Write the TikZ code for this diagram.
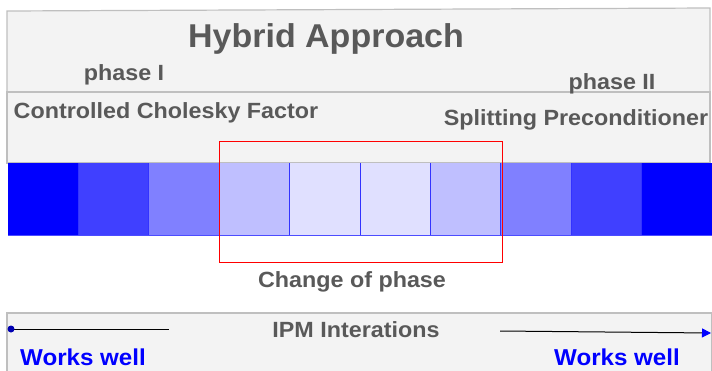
\documentclass[tikz,border=0pt]{standalone}
\usepackage{fontspec}
\setmainfont{Liberation Sans}
\usetikzlibrary{arrows.meta}
\definecolor{panel}{HTML}{F3F3F3}
\definecolor{panelline}{HTML}{BFBFBF}
\definecolor{txt}{HTML}{595959}
\newcommand{\wide}[1]{\scalebox{1.06}[1]{#1}}
\tikzset{
  panelbox/.style={fill=panel, draw=panelline, line width=1.2pt},
  label/.style={text=txt, font=\bfseries\fontsize{22}{24}\selectfont, inner sep=0pt, anchor=center},
  good/.style={text=blue, font=\bfseries\fontsize{23}{25}\selectfont, inner sep=0pt},
}
\begin{document}
\begin{tikzpicture}[x=1pt, y=-1pt]
\useasboundingbox (0,0) rectangle (712,370);
% panels
\draw[panelbox] (7,11) -- (710,8) -- (710,92) -- (7,92) -- cycle;
\draw[panelbox] (7,92) rectangle (710,163);
\draw[panelbox] (7,313) rectangle (712,375);
% colour scale bar
\foreach \i/\c in {0/100,1/75,2/50,3/25,4/12,5/12,6/25,7/50,8/75,9/100}{
  \fill[blue!\c!white] (8+\i*70.4,163) rectangle (8+\i*70.4+70.4,235);
}
\foreach \i in {1,...,9}{
  \draw[blue!80!white, line width=0.8pt] (8+\i*70.4,163) -- (8+\i*70.4,235);
}
\draw[blue!70!white, line width=0.6pt] (8,235) -- (712,235);
% phase change window
\draw[red, line width=1pt] (219,141) rectangle (502,262);
% texts
\node[label, font=\bfseries\fontsize{33}{35}\selectfont] (title) at (326,39) {\scalebox{1.03}[1]{Hybrid Approach}};
\node[label] (p1) at (124,75) {\wide{phase I}};
\node[label] (p2) at (612,84) {\wide{phase II}};
\node[label] (m1) at (166,113) {\wide{Controlled Cholesky Factor}};
\node[label] (m2) at (576,120) {\wide{Splitting Preconditioner}};
\node[label] (chg) at (352,282) {\wide{Change of phase}};
\node[label] (ipm) at (356,330) {\wide{IPM Interations}};
\node[good] (w1) at (83,357) {\scalebox{1.05}[1]{Works well}};
\node[good] (w2) at (617,357) {\scalebox{1.05}[1]{Works well}};
% iteration axis
\coordinate (s0) at (11,329);
\coordinate (s1) at (169,329);
\coordinate (e0) at (500,331);
\coordinate (e1) at (711,333);
\draw[line width=1pt] (s0) -- (s1);
\fill[blue!70!black] (s0) circle (3.5pt);
\draw[line width=1pt, -{Triangle[color=blue, length=9pt, width=9pt]}] (e0) -- (e1);
\end{tikzpicture}
\end{document}
